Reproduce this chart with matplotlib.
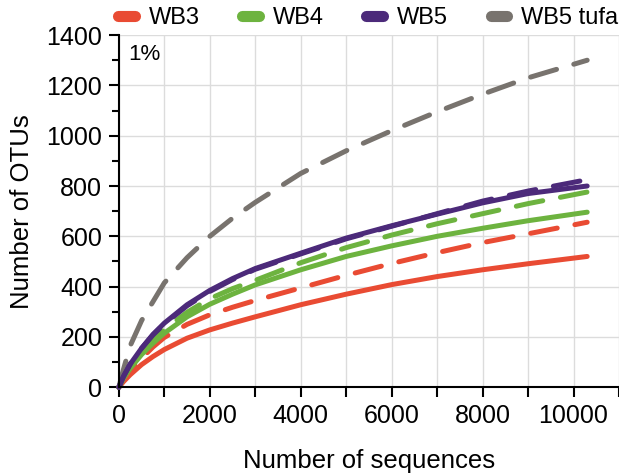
import matplotlib
matplotlib.use("Agg")
import matplotlib.pyplot as plt
from matplotlib.lines import Line2D
from matplotlib.ticker import MultipleLocator, FixedLocator

plt.rcParams['font.family'] = ['Liberation Sans', 'DejaVu Sans']

seqs = [0, 100, 250, 500, 750, 1000, 1500, 2000, 2500, 3000, 4000, 5000, 6000, 7000, 8000, 9000, 10300]
seqs_wb5d = [0, 100, 250, 500, 750, 1000, 1500, 2000, 2500, 3000, 4000, 5000, 6000, 7000, 8000, 9000, 10150]

wb3 = [0, 22, 50, 90, 122, 150, 195, 228, 255, 280, 328, 370, 408, 440, 467, 491, 520]
wb3_d = [0, 28, 65, 115, 160, 198, 250, 288, 318, 345, 395, 445, 492, 535, 575, 610, 656]
wb4 = [0, 35, 75, 130, 175, 215, 280, 330, 370, 407, 467, 520, 562, 600, 632, 662, 696]
wb4_d = [0, 38, 82, 140, 188, 230, 298, 352, 392, 425, 495, 555, 605, 650, 690, 730, 776]
wb5 = [0, 42, 92, 155, 210, 255, 328, 385, 432, 472, 533, 593, 642, 688, 733, 770, 800]
wb5_d = [0, 42, 92, 155, 208, 252, 324, 381, 428, 469, 530, 590, 640, 690, 740, 780, 820]
tufa = [0, 70, 165, 265, 340, 415, 515, 600, 672, 735, 850, 940, 1020, 1095, 1165, 1230, 1300]

red = '#E94B33'
green = '#6DB33F'
purple = '#4C2A7A'
grey = '#78736E'

fig = plt.figure(figsize=(6.19, 4.74), dpi=100)
ax = fig.add_axes([0.192, 0.183, 0.808, 0.743])

lw = 3.6
dash = (5.4, 3.6)

def curve(x, y, c, dashed=False):
    ln, = ax.plot(x, y, color=c, lw=lw, solid_capstyle='round', dash_capstyle='round',
                  solid_joinstyle='round', clip_on=False)
    if dashed:
        ln.set_dashes(dash)

curve(seqs, tufa, grey, True)
curve(seqs, wb3, red)
curve(seqs, wb3_d, red, True)
curve(seqs, wb4, green)
curve(seqs, wb4_d, green, True)
curve(seqs, wb5, purple)
curve(seqs_wb5d, wb5_d, purple, True)

ax.set_xlim(0, 11000)
ax.set_ylim(0, 1400)
ax.xaxis.set_major_locator(MultipleLocator(2000))
ax.xaxis.set_minor_locator(FixedLocator(list(range(1000, 11001, 2000))))
ax.yaxis.set_major_locator(MultipleLocator(200))
ax.yaxis.set_minor_locator(MultipleLocator(100))

ax.grid(True, which='major', color='#dcdcdc', lw=1)
ax.grid(True, which='minor', axis='x', color='#dcdcdc', lw=1)
ax.set_axisbelow(True)

for s in ['top', 'right']:
    ax.spines[s].set_visible(False)
for s in ['left', 'bottom']:
    ax.spines[s].set_linewidth(1.5)

ax.tick_params(axis='both', which='major', direction='out', length=7, width=1.5, labelsize=18, pad=5)
ax.tick_params(axis='x', which='minor', direction='out', length=7, width=1.5)
ax.tick_params(axis='y', which='minor', direction='out', length=5, width=1.5)

ax.set_xlabel('Number of sequences', fontsize=18.5, labelpad=15)
ax.set_ylabel('Number of OTUs', fontsize=18.5, labelpad=9)

ax.text(0.018, 0.945, '1%', transform=ax.transAxes, fontsize=16, va='center', ha='left')

names = ['WB3', 'WB4', 'WB5', 'WB5 tufa']
cols = [red, green, purple, grey]
handles = [Line2D([], [], color=c, lw=8, solid_capstyle='round') for c in cols]
fig.legend(handles, names, loc='center', bbox_to_anchor=(0.595, 0.962), ncol=4,
           frameon=False, fontsize=17, handlelength=0.7, handletextpad=0.6,
           columnspacing=1.8, borderaxespad=0, borderpad=0)

fig.savefig('out.png', dpi=100)
